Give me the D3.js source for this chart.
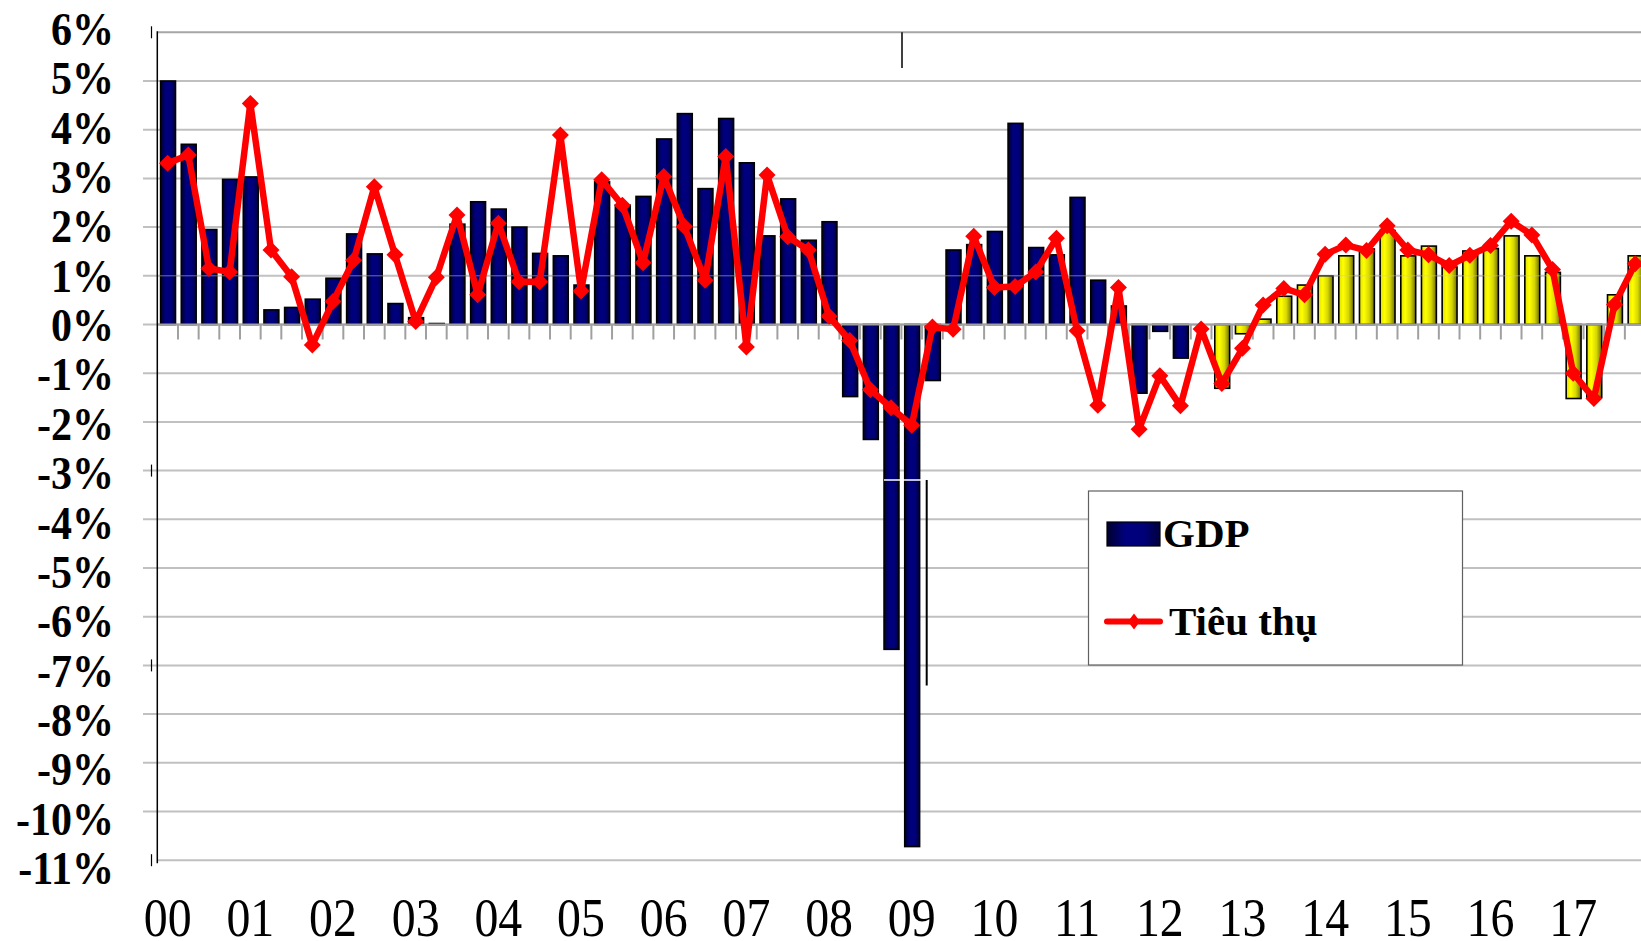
<!DOCTYPE html>
<html>
<head>
<meta charset="utf-8">
<script src="https://cdn.jsdelivr.net/npm/d3@7"></script>
<style>
  html, body { margin: 0; padding: 0; background: #fff; }
  svg { display: block; }
</style>
</head>
<body>
<svg id="chart" width="1641" height="941"></svg>
<script>
// year labels on the x axis (one per 4 quarters)
const years = ["00","01","02","03","04","05","06","07","08","09","10","11","12","13","14","15","16","17"];
const quarters = years.flatMap((y) => ["Q1","Q2","Q3","Q4"].map((q) => y + q));

// quarterly GDP growth, % (2000 Q1 .. 2017 Q4)
const gdp = [
  5.0, 3.7, 1.95, 2.98, 3.03, 0.30, 0.35, 0.52, 0.95, 1.86, 1.45, 0.43,
  0.14, 0.02, 2.06, 2.52, 2.37, 2.0, 1.46, 1.41, 0.81, 2.93, 2.45, 2.63,
  3.81, 4.33, 2.79, 4.23, 3.32, 1.82, 2.58, 1.73, 2.11, -1.48, -2.36, -6.67,
  -10.72, -1.15, 1.53, 1.64, 1.91, 4.13, 1.58, 1.43, 2.61, 0.91, 0.38, -1.41,
  -0.14, -0.69, 0, -1.31, -0.19, 0.11, 0.58, 0.81, 1.0, 1.41, 1.55, 1.93,
  1.41, 1.61, 1.18, 1.51, 1.56, 1.82, 1.41, 1.07, -1.52, -1.5, 0.61, 1.41
];

// quarterly consumption ("Tiêu thụ") growth, %
const consumption = [
  3.31, 3.48, 1.15, 1.08, 4.54, 1.53, 0.98, -0.42, 0.47, 1.32, 2.83, 1.43,
  0.06, 0.97, 2.25, 0.61, 2.08, 0.88, 0.88, 3.89, 0.69, 2.97, 2.45, 1.27,
  3.04, 2.01, 0.91, 3.45, -0.46, 3.07, 1.80, 1.53, 0.17, -0.33, -1.34, -1.71,
  -2.07, -0.05, -0.1, 1.81, 0.76, 0.78, 1.08, 1.77, -0.13, -1.66, 0.76, -2.15,
  -1.05, -1.67, -0.09, -1.21, -0.49, 0.40, 0.74, 0.61, 1.44, 1.63, 1.52, 2.03,
  1.53, 1.43, 1.21, 1.42, 1.62, 2.12, 1.84, 1.13, -1.0, -1.52, 0.41, 1.25
];

// from this quarter on the GDP bars are drawn yellow
const yellowFrom = "12Q4";

const yTicks = d3.range(-11, 7);
const legendItems = ["GDP", "Tiêu thụ"];

const svg = d3.select("#chart");
const defs = svg.append("defs");

const navy = defs.append("linearGradient").attr("id", "navy");
navy.append("stop").attr("offset", "0%").attr("stop-color", "#00002e");
navy.append("stop").attr("offset", "35%").attr("stop-color", "#000080");
navy.append("stop").attr("offset", "70%").attr("stop-color", "#000078");
navy.append("stop").attr("offset", "100%").attr("stop-color", "#00003c");

const yellow = defs.append("linearGradient").attr("id", "yellow");
yellow.append("stop").attr("offset", "0%").attr("stop-color", "#e0e000");
yellow.append("stop").attr("offset", "30%").attr("stop-color", "#ffff00");
yellow.append("stop").attr("offset", "65%").attr("stop-color", "#d6d600");
yellow.append("stop").attr("offset", "100%").attr("stop-color", "#6e6e00");

const left = 157.3;
const step = 20.67;

const x = d3.scaleBand()
  .domain(quarters)
  .range([left, left + step * quarters.length]);

const y = d3.scaleLinear().domain([-11, 6]).range([860.2, 32.3]);
// the tick labels sit a touch off the grid in the original
const labelY = d3.scaleLinear().domain([6, -11]).range([29, 868]);

const bw = x.bandwidth();
const yi = quarters.indexOf(yellowFrom);

// grid
svg.append("g")
  .selectAll("line")
  .data(yTicks)
  .join("line")
  .attr("x1", (d) => (d === 6 || d === -11 ? left : 143))
  .attr("x2", 1641)
  .attr("y1", (d) => y(d))
  .attr("y2", (d) => y(d))
  .attr("stroke", (d) => (d === 6 ? "#a6a6a6" : "#c0c0c0"))
  .attr("stroke-width", 2);

// GDP bars
svg.append("g")
  .selectAll("rect")
  .data(gdp)
  .join("rect")
  .attr("x", (d, i) => x(quarters[i]) + bw * 0.16)
  .attr("width", bw * 0.72)
  .attr("y", (d) => y(Math.max(0, d)))
  .attr("height", (d) => Math.abs(y(d) - y(0)))
  .attr("fill", (d, i) => (i >= yi ? "url(#yellow)" : "url(#navy)"))
  .attr("stroke", "#000")
  .attr("stroke-width", 1.6);

// the 1% grid line shows faintly through the bars
svg.append("line")
  .attr("x1", left).attr("x2", 1641)
  .attr("y1", y(1)).attr("y2", y(1))
  .attr("stroke", "#c8c8c8")
  .attr("stroke-opacity", 0.55)
  .attr("stroke-width", 1);

// zero line and quarter ticks
svg.append("line")
  .attr("x1", left).attr("x2", 1641)
  .attr("y1", y(0)).attr("y2", y(0))
  .attr("stroke", "#a0a0a0")
  .attr("stroke-width", 2.2);

svg.append("g")
  .selectAll("line")
  .data(quarters.slice(1))
  .join("line")
  .attr("x1", (d) => x(d))
  .attr("x2", (d) => x(d))
  .attr("y1", y(0))
  .attr("y2", y(0) + 15)
  .attr("stroke", "#a0a0a0")
  .attr("stroke-width", 2);

// left axis
svg.append("line")
  .attr("x1", left).attr("x2", left)
  .attr("y1", y(6) - 1).attr("y2", y(-11) + 3)
  .attr("stroke", "#000")
  .attr("stroke-width", 1.5);

svg.append("g")
  .selectAll("line")
  .data([6, -3, -7, -11])
  .join("line")
  .attr("x1", 151.5).attr("x2", 151.5)
  .attr("y1", (d) => y(d) - 6)
  .attr("y2", (d) => y(d) + 6)
  .attr("stroke", "#000")
  .attr("stroke-width", 1.2);

// stray marks in the original picture
svg.append("line")
  .attr("x1", 902).attr("x2", 902)
  .attr("y1", y(6)).attr("y2", 68)
  .attr("stroke", "#000").attr("stroke-width", 1.5);
svg.append("line")
  .attr("x1", 884).attr("x2", 922)
  .attr("y1", 480).attr("y2", 480)
  .attr("stroke", "#fff").attr("stroke-width", 1.5);
svg.append("line")
  .attr("x1", 926.7).attr("x2", 926.7)
  .attr("y1", 480).attr("y2", 685.5)
  .attr("stroke", "#000").attr("stroke-width", 2);

// consumption line
const cx = (i) => x(quarters[i]) + bw / 2;
const line = d3.line()
  .x((d, i) => cx(i))
  .y((d) => y(d));

svg.append("path")
  .datum(consumption)
  .attr("d", line)
  .attr("fill", "none")
  .attr("stroke", "#ff0000")
  .attr("stroke-width", 6.5)
  .attr("stroke-linejoin", "round");

const diamond = "M0,-8.5L8.5,0L0,8.5L-8.5,0Z";
svg.append("g")
  .selectAll("path")
  .data(consumption)
  .join("path")
  .attr("d", diamond)
  .attr("transform", (d, i) => `translate(${cx(i)},${y(d)})`)
  .attr("fill", "#ff0000");

// y tick labels
svg.append("g")
  .selectAll("text")
  .data(yTicks)
  .join("text")
  .attr("transform", (d) => `translate(114,${labelY(d) + 16}) scale(1,1.13)`)
  .attr("text-anchor", "end")
  .attr("font-family", "'Liberation Serif', 'Times New Roman', serif")
  .attr("font-weight", "bold")
  .attr("font-size", 42)
  .attr("fill", "#000")
  .text((d) => d + "%");

// x tick labels (they sit right on the bottom edge, as in the original)
svg.append("g")
  .selectAll("text")
  .data(years)
  .join("text")
  .attr("transform", (d) => `translate(${x(d + "Q1") + bw / 2},936) scale(0.87,1)`)
  .attr("text-anchor", "middle")
  .attr("font-family", "'Liberation Serif', 'Times New Roman', serif")
  .attr("font-size", 55)
  .attr("fill", "#000")
  .text((d) => d);

// legend
const lg = svg.append("g");
lg.append("rect")
  .attr("x", 1088.5).attr("y", 491)
  .attr("width", 374).attr("height", 174)
  .attr("fill", "#fff")
  .attr("stroke", "#606060")
  .attr("stroke-width", 1.2);

lg.append("rect")
  .attr("x", 1107).attr("y", 522)
  .attr("width", 53).attr("height", 24)
  .attr("fill", "url(#navy)")
  .attr("stroke", "#000")
  .attr("stroke-width", 1.2);

lg.append("line")
  .attr("x1", 1107).attr("x2", 1160)
  .attr("y1", 621.5).attr("y2", 621.5)
  .attr("stroke", "#ff0000")
  .attr("stroke-width", 6)
  .attr("stroke-linecap", "round");
lg.append("path")
  .attr("d", "M0,-8L6,0L0,8L-6,0Z")
  .attr("transform", "translate(1134,621.5)")
  .attr("fill", "#ff0000");

lg.selectAll("text")
  .data(legendItems)
  .join("text")
  .attr("x", (d, i) => (i === 0 ? 1163 : 1169))
  .attr("y", (d, i) => (i === 0 ? 547 : 635))
  .attr("font-family", "'Liberation Serif', 'Times New Roman', serif")
  .attr("font-weight", "bold")
  .attr("font-size", 41)
  .attr("fill", "#000")
  .text((d) => d);
</script>
</body>
</html>
